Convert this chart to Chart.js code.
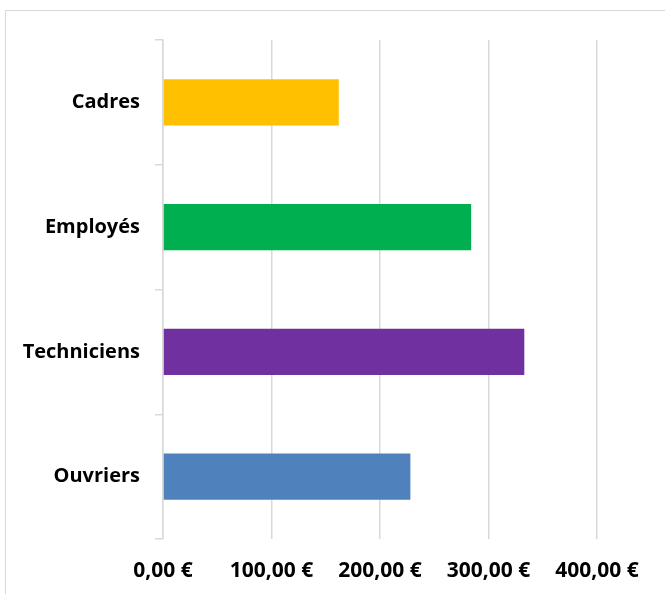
<!DOCTYPE html>
<html>
<head>
<meta charset="utf-8">
<script src="https://cdn.jsdelivr.net/npm/chart.js@4/dist/chart.umd.min.js"></script>
<style>
    html, body { margin: 0; padding: 0; background: #fff; overflow: hidden; }
    #wrap { position: relative; width: 665px; height: 594px; }
    #frame {
        position: absolute; left: 5px; top: 10px;
        width: 700px; height: 700px;
        border: 1.5px solid #d9d9d9;
    }
    #chart { position: absolute; left: 0; top: 0; }
</style>
</head>
<body>
<div id="wrap">
    <div id="frame"></div>
    <canvas id="chart" width="665" height="594"></canvas>
</div>
<script>
// --- data ---
const categories = ['Cadres', 'Employés', 'Techniciens', 'Ouvriers'];
const amounts = [162, 284, 333, 228];
const barColors = ['#FFC000', '#00B050', '#7030A0', '#4F81BD'];
const tickValues = [0, 100, 200, 300, 400];

const gridColor = '#d9d9d9';
const catFont = { family: '"Open Sans", sans-serif', size: 20, weight: 'bold' };
const valFont = { family: '"Open Sans", sans-serif', size: 21, weight: 'bold' };

function formatEuro(v) {
    return v.toFixed(2).replace('.', ',') + ' €';
}

new Chart(document.getElementById('chart'), {
    type: 'bar',
    data: {
        labels: categories,
        datasets: [{
            data: amounts,
            backgroundColor: barColors,
            borderWidth: 0,
            barPercentage: 0.37,
            categoryPercentage: 1
        }]
    },
    options: {
        indexAxis: 'y',
        responsive: false,
        animation: false,
        layout: { padding: { top: 40, right: 68, left: 0, bottom: 0 } },
        plugins: {
            legend: { display: false },
            tooltip: { enabled: false }
        },
        scales: {
            x: {
                min: tickValues[0],
                max: tickValues[tickValues.length - 1],
                afterBuildTicks: scale => {
                    scale.ticks = tickValues.map(v => ({ value: v }));
                },
                afterFit: scale => { scale.height = 55; },
                border: { display: false },
                grid: {
                    color: gridColor,
                    lineWidth: 1.5,
                    drawTicks: false
                },
                ticks: {
                    color: '#000',
                    font: valFont,
                    padding: 19,
                    maxRotation: 0,
                    callback: v => formatEuro(v)
                }
            },
            y: {
                afterFit: scale => { scale.width = 163; },
                border: { color: gridColor, width: 1.5 },
                grid: {
                    drawOnChartArea: false,
                    color: gridColor,
                    lineWidth: 1.5,
                    tickLength: 8
                },
                ticks: {
                    color: '#000',
                    font: catFont,
                    padding: 15
                }
            }
        }
    }
});
</script>
</body>
</html>
